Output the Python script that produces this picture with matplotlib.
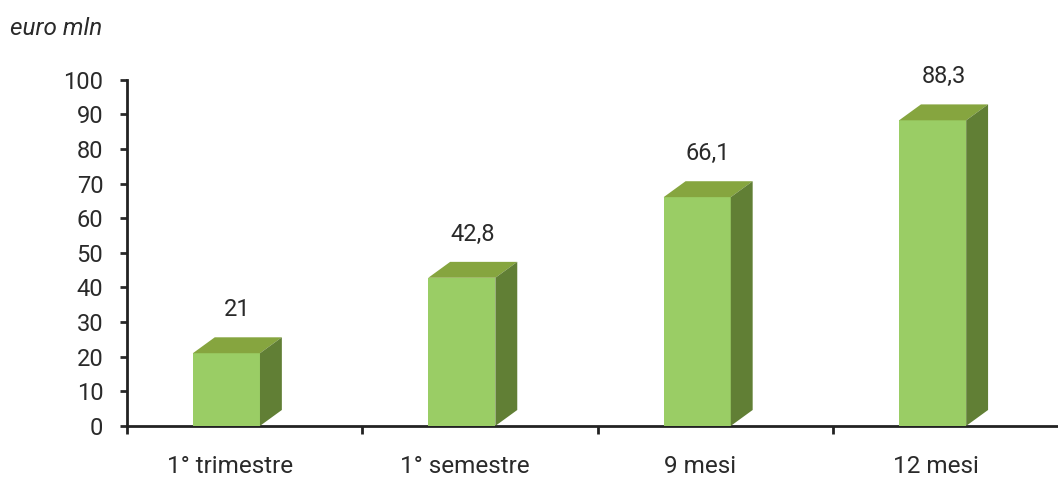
import matplotlib.pyplot as plt
from matplotlib.patches import Polygon
from matplotlib.transforms import ScaledTranslation

plt.rcParams['font.family'] = ['Roboto', 'DejaVu Sans']

categories = ['1° trimestre', '1° semestre', '9 mesi', '12 mesi']
values = [21, 42.8, 66.1, 88.3]
labels = ['21', '42,8', '66,1', '88,3']

front_col = '#9ACD65'
top_col = '#86A53F'
side_col = '#617F35'
text_col = '#2a2a2a'

fig = plt.figure(figsize=(10.58, 4.78), dpi=100)
ax = fig.add_axes([0.12, 0.109, 0.89, 0.724])

# bar geometry (front face offset, depth of the fake 3d)
x_off = -0.22
width = 0.285
dx = 0.093
dy = 4.6

for i, v in enumerate(values):
    x0 = i + x_off
    x1 = x0 + width
    ax.bar(x0, v, width=width, align='edge', color=front_col, zorder=3)
    top = Polygon([(x0, v), (x0 + dx, v + dy), (x1 + dx, v + dy), (x1, v)],
                  closed=True, facecolor=top_col, edgecolor='none', zorder=3, clip_on=False)
    side = Polygon([(x1, 0), (x1 + dx, dy), (x1 + dx, v + dy), (x1, v)],
                   closed=True, facecolor=side_col, edgecolor='none', zorder=3, clip_on=False)
    ax.add_patch(top)
    ax.add_patch(side)
    ax.annotate(labels[i], (x0 + (width + dx) / 2, v + dy), xytext=(0, 20),
                textcoords='offset points', ha='center', va='center',
                fontsize=17, color=text_col, annotation_clip=False)

ax.set_xlim(-0.5, 3.5)
ax.set_ylim(0, 100)
ax.set_yticks(range(0, 101, 10))
ax.set_xticks(range(len(categories)))
ax.set_xticklabels(categories)
ax.set_xticks([-0.5, 0.5, 1.5, 2.5, 3.5], minor=True)

for s in ['top', 'right']:
    ax.spines[s].set_visible(False)
for s in ['left', 'bottom']:
    ax.spines[s].set_linewidth(2)
    ax.spines[s].set_color('#222222')

ax.tick_params(axis='y', length=5, width=2, pad=12, labelsize=17, colors=text_col)
ax.tick_params(axis='x', which='major', length=0, pad=21, labelsize=17.5, colors=text_col)
ax.tick_params(axis='x', which='minor', length=6, width=2, color='#222222')

shift = ScaledTranslation(-0.15, 0, fig.dpi_scale_trans)
for lab in ax.get_xticklabels():
    lab.set_transform(lab.get_transform() + shift)

fig.text(0.009, 0.941, 'euro mln', fontsize=17.5, style='italic', color=text_col, va='center')

fig.savefig('out.png', dpi=100)
